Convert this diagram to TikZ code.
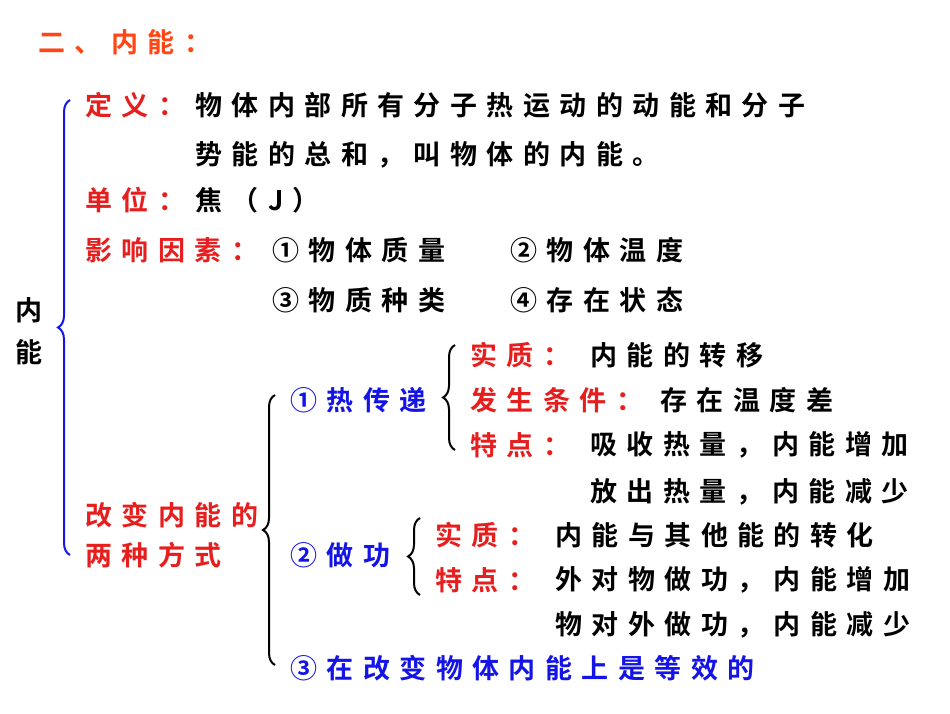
\documentclass[tikz,border=0pt]{standalone}
\usepackage{fontspec}
\usetikzlibrary{decorations.pathreplacing}
\newfontfamily\cjk[LetterSpace=35]{Noto Sans CJK SC Bold}
\definecolor{hred}{RGB}{230,30,30}
\definecolor{horange}{RGB}{255,70,20}
\definecolor{hblue}{RGB}{20,20,230}
\tikzset{t/.style={anchor=west,inner sep=0pt,font=\cjk\fontsize{27}{27}\selectfont},
r/.style={t,text=hred}, b/.style={t,text=hblue}, k/.style={t,text=black},
br/.style={decorate,decoration={brace,amplitude=12pt},line width=2pt}}
\begin{document}
\begin{tikzpicture}[x=1pt,y=-1pt]
\useasboundingbox (0,0) rectangle (950,713);
\node[t,text=horange] (title) at (38,42) {二、内能：};
\node[k] (n1) at (15,310) {内};
\node[k] (n2) at (15,352) {能};
\draw[br,hblue] (70,555) -- (70,100);
\node[r] (dy) at (85,105) {定义：};
\node[k] (dy1) at (195,105) {物体内部所有分子热运动的动能和分子};
\node[k] (dy2) at (195,155) {势能的总和，叫物体的内能。};
\node[r] (dw) at (85,200) {单位：};
\node[k] (dw1) at (195,200) {焦（J）};
\node[r] (ys) at (85,250) {影响因素：};
\node[k] (y1) at (272,250) {①物体质量};
\node[k] (y2) at (510,250) {②物体温度};
\node[k] (y3) at (272,300) {③物质种类};
\node[k] (y4) at (510,300) {④存在状态};
\node[r] (gb1) at (85,515) {改变内能的};
\node[r] (gb2) at (85,555) {两种方式};
\draw[br,black] (275,665) -- (275,395);
\node[b] (rc) at (290,400) {①热传递};
\draw[br,black] (455,450) -- (455,345);
\node[r] (s1) at (470,355) {实质：};
\node[k] (s1t) at (590,355) {内能的转移};
\node[r] (fs) at (470,400) {发生条件：};
\node[k] (fst) at (660,400) {存在温度差};
\node[r] (td) at (470,445) {特点：};
\node[k] (td1) at (590,445) {吸收热量，内能增加};
\node[k] (td2) at (590,492) {放出热量，内能减少};
\node[b] (zg) at (290,555) {②做功};
\draw[br,black] (420,595) -- (420,518);
\node[r] (s2) at (435,535) {实质：};
\node[k] (s2t) at (555,535) {内能与其他能的转化};
\node[r] (td3) at (435,580) {特点：};
\node[k] (td4) at (555,580) {外对物做功，内能增加};
\node[k] (td5) at (555,625) {物对外做功，内能减少};
\node[b] (dx) at (290,668) {③在改变物体内能上是等效的};
\end{tikzpicture}
\end{document}
